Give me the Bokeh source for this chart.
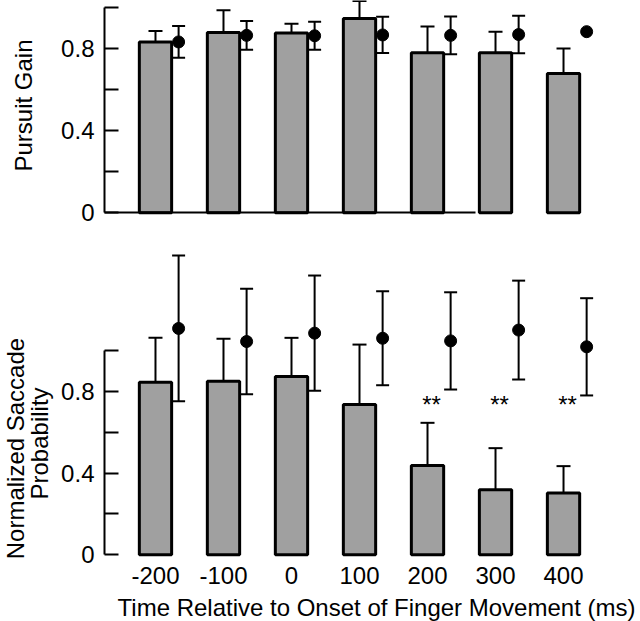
import math
from bokeh.plotting import figure
from bokeh.layouts import column
from bokeh.models import FixedTicker, Whisker, TeeHead, ColumnDataSource, Range1d, Label
from bokeh.core.properties import value
from bokeh.embed import file_html
from bokeh.resources import INLINE

# ---------------- data ----------------
times = ["-200", "-100", "0", "100", "200", "300", "400"]

gain_bar = [0.831, 0.877, 0.875, 0.945, 0.779, 0.779, 0.677]
gain_bar_sem = [0.053, 0.108, 0.045, 0.085, 0.127, 0.102, 0.122]
gain_dot = [0.831, 0.863, 0.861, 0.865, 0.863, 0.867, 0.881]
gain_dot_sem = [0.077, 0.070, 0.068, 0.088, 0.092, 0.091, None]

sacc_bar = [0.845, 0.850, 0.873, 0.736, 0.437, 0.318, 0.302]
sacc_bar_sem = [0.217, 0.207, 0.189, 0.293, 0.209, 0.204, 0.132]
sacc_dot = [1.108, 1.044, 1.085, 1.060, 1.047, 1.100, 1.018]
sacc_dot_sem = [0.357, 0.258, 0.282, 0.230, 0.238, 0.242, 0.238]
sacc_sig = ["", "", "", "", "**", "**", "**"]

y_ticks = [0, 0.4, 0.8]
y_tick_labels = ["0", "0.4", "0.8"]
y_minor = [0.2, 0.6, 1.0]

top_ylabel = "Pursuit Gain"
bottom_ylabel = ["Normalized Saccade", "Probability"]
xlabel = "Time Relative to Onset of Finger Movement (ms)"

# ---------------- styling / layout ----------------
FONT = "Liberation Sans"
FS = "24px"
BAR_W = 0.475
DOT_OFF = 0.34
GREY = "#a0a0a0"
XR = (-2.279, 7.132)      # frame spans whole canvas width
Y_AXIS_AT = -0.75         # position of the vertical axis

idx = list(range(len(times)))


def make_fig(h, yr):
    p = figure(width=640, height=h, x_range=Range1d(*XR), y_range=Range1d(*yr),
               output_backend="svg", toolbar_location=None,
               min_border_left=0, min_border_right=0, min_border_top=0,
               min_border_bottom=0)
    p.xgrid.visible = False
    p.ygrid.visible = False
    p.outline_line_color = None
    p.background_fill_color = "white"
    p.border_fill_color = "white"
    ya = p.yaxis[0]
    ya.fixed_location = Y_AXIS_AT
    ya.ticker = FixedTicker(ticks=y_ticks, minor_ticks=y_minor)
    ya.major_label_overrides = {t: l for t, l in zip(y_ticks, y_tick_labels)}
    ya.bounds = (0, 1.0)
    ya.axis_line_width = 2
    ya.axis_line_color = "black"
    ya.major_tick_in = 14
    ya.major_tick_out = 0
    ya.minor_tick_in = 14
    ya.minor_tick_out = 0
    ya.major_tick_line_width = 2
    ya.minor_tick_line_width = 2
    ya.major_tick_line_color = "black"
    ya.minor_tick_line_color = "black"
    ya.major_label_standoff = 10
    ya.major_label_text_font = FONT
    ya.major_label_text_font_size = FS
    ya.major_label_text_color = "black"
    xa = p.xaxis[0]
    xa.fixed_location = 0
    xa.major_tick_line_color = None
    xa.minor_tick_line_color = None
    return p


def add_label(p, text, x, y, angle=0.0):
    p.add_layout(Label(x=x, y=y, text=text, angle=angle, text_align="center",
                       text_baseline="alphabetic", text_font=FONT,
                       text_font_size=FS, text_color="black"))


def draw_panel(p, bar, bar_sem, dot, dot_sem):
    src_bar = ColumnDataSource(dict(
        x=idx, top=bar,
        up=[b + s for b, s in zip(bar, bar_sem)]))
    p.vbar(x="x", top="top", bottom=0, width=BAR_W, source=src_bar,
           fill_color=GREY, line_color="black", line_width=3)
    p.add_layout(Whisker(source=src_bar, base="x", lower="top", upper="up",
                         dimension="height", line_width=2, line_color="black",
                         lower_head=None,
                         upper_head=TeeHead(size=14, line_width=2, line_color="black"),
                         level="glyph"))
    dx = [i + DOT_OFF for i in idx]
    keep = [i for i, s in enumerate(dot_sem) if s is not None]
    src_err = ColumnDataSource(dict(
        x=[dx[i] for i in keep],
        lo=[dot[i] - dot_sem[i] for i in keep],
        hi=[dot[i] + dot_sem[i] for i in keep]))
    p.add_layout(Whisker(source=src_err, base="x", lower="lo", upper="hi",
                         dimension="height", line_width=2, line_color="black",
                         lower_head=TeeHead(size=13, line_width=2, line_color="black"),
                         upper_head=TeeHead(size=13, line_width=2, line_color="black"),
                         level="glyph"))
    p.scatter(x=dx, y=dot, size=12, marker="circle", fill_color="black",
              line_color="black")


# ---------------- top panel ----------------
p1 = make_fig(230, (-0.0861, 1.0326))
xa1 = p1.xaxis[0]
xa1.ticker = FixedTicker(ticks=[])
xa1.bounds = (Y_AXIS_AT, 4.706)
xa1.axis_line_width = 2
xa1.axis_line_color = "black"
draw_panel(p1, gain_bar, gain_bar_sem, gain_dot, gain_dot_sem)
add_label(p1, top_ylabel, -1.945, 0.522, math.pi / 2)

# ---------------- bottom panel ----------------
p2 = make_fig(391, (-0.3265, 1.5874))
xa2 = p2.xaxis[0]
xa2.ticker = FixedTicker(ticks=idx)
xa2.major_label_overrides = {i: t for i, t in zip(idx, times)}
xa2.axis_line_color = None
xa2.major_label_standoff = 6
xa2.major_label_text_font = FONT
xa2.major_label_text_font_size = FS
xa2.major_label_text_color = "black"
draw_panel(p2, sacc_bar, sacc_bar_sem, sacc_dot, sacc_dot_sem)
p2.text(x=idx, y=[0.735] * len(idx), text=sacc_sig, text_align="center",
        text_baseline="middle", text_font=value(FONT), text_font_size="24px",
        text_color="black", x_offset=4)
add_label(p2, bottom_ylabel[0], -2.06, 0.52, math.pi / 2)
add_label(p2, bottom_ylabel[1], -1.70, 0.545, math.pi / 2)
add_label(p2, xlabel, 3.25, -0.26)

layout = column(p1, p2, spacing=0)
open("out.html", "w").write(file_html(layout, INLINE))
